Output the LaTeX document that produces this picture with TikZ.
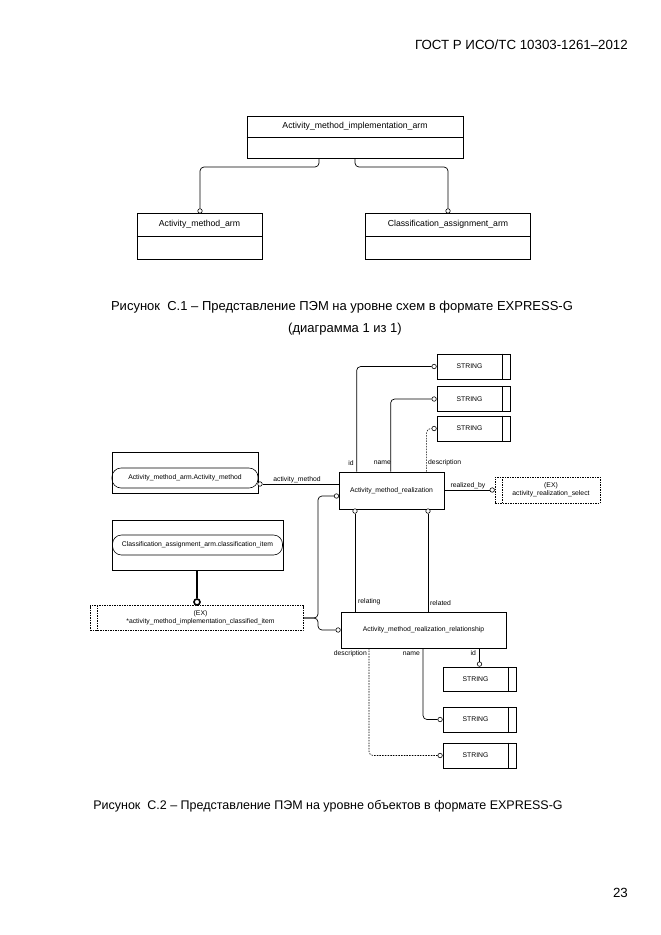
\documentclass[tikz,border=0pt]{standalone}
\usepackage{fontspec}
\setmainfont{Liberation Sans}
\usetikzlibrary{calc}
\begin{document}
\begin{tikzpicture}[x=1pt,y=-1pt,
  every node/.style={font=\fontsize{6.8}{7.6}\selectfont, inner sep=0},
  ebox/.style={draw, line width=0.7pt},
  exbox/.style={draw, line width=0.5pt, dash pattern=on 1.5pt off 1pt},
  oc/.style={circle, draw, fill=white, line width=0.6pt, minimum size=4.5pt},
  conn/.style={line width=0.7pt, rounded corners=4pt},
  dconn/.style={line width=0.6pt, rounded corners=4pt, dash pattern=on 1.5pt off 1.2pt},
  pill/.style={draw, line width=0.6pt, rounded corners=9pt},
  lbl/.style={font=\fontsize{6.8}{7.6}\selectfont},
  big/.style={font=\fontsize{8.7}{9.5}\selectfont},
  captxt/.style={font=\fontsize{13}{15}\selectfont},
  captxtb/.style={font=\fontsize{12.5}{15}\selectfont},
  hdrtxt/.style={font=\fontsize{13.3}{15}\selectfont}
]
\useasboundingbox (0,0) rectangle (661,935);

% header and page number
\node[hdrtxt, anchor=east] (hdr) at (628,45) {ГОСТ Р ИСО/ТС 10303-1261–2012};
\node[hdrtxt, anchor=east] (pg) at (628,893) {23};

% ---------- Figure C.1 ----------
\node[ebox, minimum width=216, minimum height=42] (ami) at (355,137) {};
\draw[line width=0.7pt] (ami.west) -- (ami.east);
\node[big] (amit) at (355,126.5) {Activity\_method\_implementation\_arm};

\node[ebox, minimum width=125, minimum height=46] (ama) at (199.5,236) {};
\draw[line width=0.7pt] (ama.west) -- (ama.east);
\node[big] (amat) at (199.5,224.5) {Activity\_method\_arm};

\node[ebox, minimum width=165, minimum height=46] (caa) at (448,236) {};
\draw[line width=0.7pt] (caa.west) -- (caa.east);
\node[big] (caat) at (448,224.5) {Classification\_assignment\_arm};

\node[oc, anchor=south] (c1l) at (200,213.5) {};
\node[oc, anchor=south] (c1r) at (448,213.5) {};
\draw[conn] (319,158) -- (319,167) -- (200,167) -- (c1l.north);
\draw[conn] (355,158) -- (355,167) -- (448,167) -- (c1r.north);

\node[captxt] (cap1a) at (342,307) {Рисунок\ \ С.1 – Представление ПЭМ на уровне схем в формате EXPRESS-G};
\node[captxt] (cap1b) at (345,329) {(диаграмма 1 из 1)};

% ---------- Figure C.2 ----------
% central entity
\node[ebox, minimum width=105, minimum height=37] (amr) at (391.5,490.5) {Activity\_method\_realization};

% top strings
\node[ebox, minimum width=73, minimum height=25] (s1) at (473.5,366.5) {};
\node[ebox, minimum width=73, minimum height=25] (s2) at (473.5,399) {};
\node[ebox, minimum width=73, minimum height=25] (s3) at (473.5,428.5) {};
\foreach \s in {s1,s2,s3}{
  \draw[line width=0.6pt] ([xshift=-8pt]\s.north east) -- ([xshift=-8pt]\s.south east);
  \node (\s t) at ([xshift=-4pt]\s.center) {STRING};}
\node[oc, anchor=east] (cs1) at (s1.west) {};
\node[oc, anchor=east] (cs2) at (s2.west) {};
\node[oc, anchor=east] (cs3) at (s3.west) {};
\draw[conn] ([xshift=18pt]amr.north west) |- (cs1.west);
\draw[conn] ([xshift=52pt]amr.north west) |- (cs2.west);
\draw[dconn] ([xshift=88pt]amr.north west) |- (cs3.west);
\node[lbl] (lid) at (351,463) {id};
\node[lbl, anchor=east] (lname) at (391,463) {name};
\node[lbl, anchor=west] (ldesc) at (428,463) {description};

% realized_by
\node[exbox, minimum width=105, minimum height=26] (ex1) at (547.5,490) {};
\node[align=center] (ex1t) at ([xshift=3.5pt]ex1.center) {(EX)\\activity\_realization\_select};
\draw[exbox] ([xshift=7pt]ex1.north west) -- ([xshift=7pt]ex1.south west);
\node[oc, anchor=east] (cex1) at (ex1.west) {};
\draw[line width=0.7pt] (amr.east |- cex1) -- (cex1.west);
\node[lbl] (lrb) at (468,485.5) {realized\_by};

% activity_method
\node[ebox, minimum width=146, minimum height=41] (amo) at (185,472.5) {};
\node[pill, minimum width=146, minimum height=20] (amp) at (185,478) {Activity\_method\_arm.Activity\_method};
\node[oc] (cam) at (260,484) {};
\draw[line width=0.7pt] (cam.east) -- (amr.west |- cam);
\node[lbl] (lam) at (297,480) {activity\_method};

% classification
\node[ebox, minimum width=171, minimum height=50] (clo) at (197.5,545) {};
\node[pill, minimum width=170, minimum height=20] (clp) at (197.5,545) {Classification\_assignment\_arm.classification\_item};
\node[exbox, minimum width=213, minimum height=25] (ex2) at (196.5,618) {};
\node[align=center] (ex2t) at ([xshift=4pt]ex2.center) {(EX)\\*activity\_method\_implementation\_classified\_item};
\draw[exbox] ([xshift=7pt]ex2.north west) -- ([xshift=7pt]ex2.south west);
\node[circle, draw, fill=white, line width=1.6pt, minimum size=6pt] (cth) at (197,602) {};
\draw[line width=2pt] (clo.south -| cth) -- (cth.north);

% links from EX2 to entities
\node[oc, anchor=east] (cl1) at (339,496) {};
\node[ebox, minimum width=165, minimum height=36] (amrr) at (423.5,630) {Activity\_method\_realization\_relationship};
\node[oc, anchor=east] (cl2) at (amrr.west) {};
\draw[conn] (ex2.east) -- (318,618) -- (318,496) -- (cl1.west);
\draw[conn] (ex2.east) -- (318,618) -- (318,630) -- (cl2.west);

% relating / related
\node[oc, anchor=north] (cb1) at (355,508.5) {};
\node[oc, anchor=north] (cb2) at (428,508.5) {};
\draw[line width=0.7pt] (cb1.south) -- (cb1 |- amrr.north);
\draw[line width=0.7pt] (cb2.south) -- (cb2 |- amrr.north);
\node[lbl, anchor=west] (lrel1) at (358,602) {relating};
\node[lbl, anchor=west] (lrel2) at (430,603) {related};

% lower strings
\node[ebox, minimum width=73, minimum height=24] (l1) at (479.5,679) {};
\node[ebox, minimum width=73, minimum height=25] (l2) at (479.5,719.5) {};
\node[ebox, minimum width=73, minimum height=25] (l3) at (479.5,755.5) {};
\foreach \s in {l1,l2,l3}{
  \draw[line width=0.6pt] ([xshift=-8pt]\s.north east) -- ([xshift=-8pt]\s.south east);
  \node (\s t) at ([xshift=-4pt]\s.center) {STRING};}
\node[oc, anchor=south] (cL1) at (l1.north) {};
\node[oc, anchor=east] (cL2) at (l2.west) {};
\node[oc, anchor=east] (cL3) at (l3.west) {};
\draw[line width=0.7pt] (cL1 |- amrr.south) -- (cL1.north);
\draw[conn] (423,648) |- (cL2.west);
\draw[dconn] (369,648) |- (cL3.west);
\node[lbl, anchor=east] (ldesc2) at (367,654) {description};
\node[lbl, anchor=east] (lname2) at (420,654) {name};
\node[lbl, anchor=east] (lid2) at (476,653) {id};

\node[captxtb] (cap2) at (328,806) {Рисунок\ \ С.2 – Представление ПЭМ на уровне объектов в формате EXPRESS-G};
\end{tikzpicture}
\end{document}
